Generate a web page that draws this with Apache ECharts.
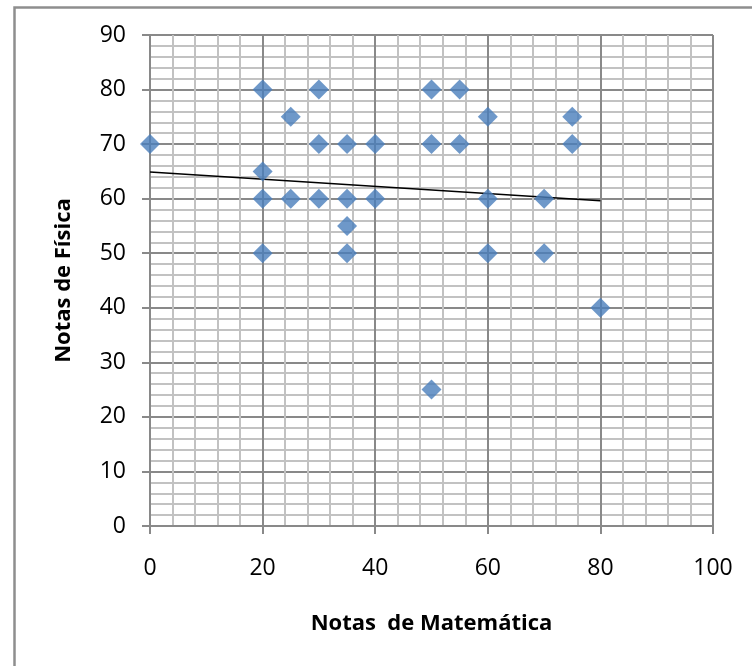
<!DOCTYPE html>
<html>
<head>
<meta charset="utf-8">
<title>Notas de Física vs Matemática</title>
<script src="https://cdn.jsdelivr.net/npm/echarts@6/dist/echarts.min.js"></script>
<style>
  html, body { margin: 0; padding: 0; background: #ffffff; }
  #chart { width: 752px; height: 666px; }
</style>
</head>
<body>
<div id="chart"></div>
<script>
// notas de matemática (x) y de física (y) de cada alumno
const notasMatematica = [0, 20, 20, 20, 20, 25, 25, 30, 30, 30, 35, 35, 35, 35, 40, 40,
  50, 50, 50, 55, 55, 60, 60, 60, 70, 70, 75, 75, 80]
const notasFisica = [70, 80, 65, 60, 50, 75, 60, 80, 70, 60, 70, 60, 55, 50, 70, 60,
  80, 70, 25, 80, 70, 75, 60, 50, 60, 50, 75, 70, 40]

// línea de tendencia
const tendenciaX = [0, 80]
const tendenciaY = [64.9, 59.6]

const font = '"Open Sans", "Liberation Sans", sans-serif'
const majorColor = '#898989'
const minorColor = '#c2c2c2'

const chart = echarts.init(document.getElementById('chart'))

const axisCommon = {
  type: 'value',
  nameLocation: 'middle',
  nameTextStyle: { fontFamily: font, fontSize: 22, fontWeight: 'bold', color: '#000' },
  axisLine: { show: true, lineStyle: { color: majorColor, width: 2 } },
  axisTick: { show: true, inside: false, length: 8, lineStyle: { color: majorColor, width: 2 } },
  axisLabel: { fontFamily: font, fontSize: 23, color: '#000' },
  splitLine: { show: true, lineStyle: { color: majorColor, width: 2 } },
  minorTick: { show: false, splitNumber: 5 },
  minorSplitLine: { show: true, lineStyle: { color: minorColor, width: 2 } }
}

const option = {
  animation: false,
  backgroundColor: '#ffffff',
  graphic: [{
    type: 'rect',
    left: 12,
    top: 5,
    shape: { width: 800, height: 720 },
    style: { fill: 'none', stroke: '#8e8e8e', lineWidth: 2.5 },
    silent: true
  }],
  grid: { left: 150, right: 39, top: 35, bottom: 140, containLabel: false },
  xAxis: Object.assign({}, axisCommon, {
    name: 'Notas  de Matemática',
    nameGap: 87,
    min: 0,
    max: 100,
    interval: 20,
    axisLabel: Object.assign({}, axisCommon.axisLabel, { margin: 31 })
  }),
  yAxis: Object.assign({}, axisCommon, {
    name: 'Notas de Física',
    nameGap: 75,
    min: 0,
    max: 90,
    interval: 10,
    axisLabel: Object.assign({}, axisCommon.axisLabel, { margin: 24 })
  }),
  series: [
    {
      type: 'line',
      data: tendenciaX.map((x, i) => [x, tendenciaY[i]]),
      showSymbol: false,
      symbol: 'none',
      lineStyle: { color: '#000', width: 1.5 },
      z: 3
    },
    {
      type: 'scatter',
      data: notasMatematica.map((x, i) => [x, notasFisica[i]]),
      symbol: 'diamond',
      symbolSize: 20,
      itemStyle: { color: '#4a7ebb' },
      z: 4
    }
  ]
}

chart.setOption(option)
</script>
</body>
</html>
